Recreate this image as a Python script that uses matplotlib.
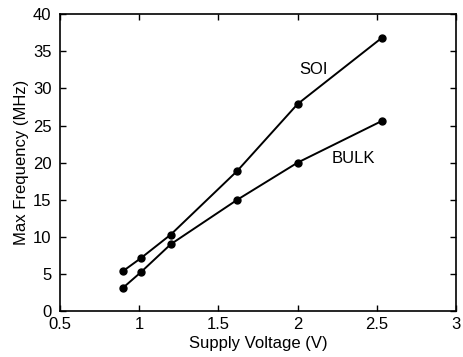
import matplotlib
matplotlib.use('Agg')
import matplotlib.pyplot as plt

# Data ----------------------------------------------------------------
voltage_soi = [0.90, 1.01, 1.20, 1.62, 2.00, 2.53]
freq_soi = [5.4, 7.1, 10.3, 18.9, 27.9, 36.8]
voltage_bulk = [0.90, 1.01, 1.20, 1.62, 2.00, 2.53]
freq_bulk = [3.15, 5.2, 9.0, 15.0, 20.0, 25.6]

x_ticks = [0.5, 1, 1.5, 2, 2.5, 3]
x_ticklabels = ['0.5', '1', '1.5', '2', '2.5', '3']
y_ticks = [0, 5, 10, 15, 20, 25, 30, 35, 40]

plt.rcParams['font.family'] = ['Liberation Sans', 'DejaVu Sans']

fig = plt.figure(figsize=(4.64, 3.57), dpi=100)
ax = fig.add_axes([0.129, 0.129, 0.854, 0.831])

ax.plot(voltage_soi, freq_soi, color='black', lw=1.4, marker='o', ms=5)
ax.plot(voltage_bulk, freq_bulk, color='black', lw=1.4, marker='o', ms=5)

ax.text(2.10, 32.6, 'SOI', fontsize=12, ha='center', va='center')
ax.text(2.35, 20.5, 'BULK', fontsize=12, ha='center', va='center')

ax.set_xlim(0.5, 3)
ax.set_ylim(0, 40)
ax.set_xticks(x_ticks)
ax.set_xticklabels(x_ticklabels)
ax.set_yticks(y_ticks)
ax.tick_params(direction='in', length=4, width=1, top=True, right=True,
               labelsize=12)
ax.tick_params(axis='y', pad=6)
ax.tick_params(axis='x', pad=4)
for s in ax.spines.values():
    s.set_linewidth(1.2)

ax.set_xlabel('Supply Voltage (V)', fontsize=12, labelpad=3)
ax.set_ylabel('Max Frequency (MHz)', fontsize=12, labelpad=3)

fig.savefig('out.png', dpi=100)
